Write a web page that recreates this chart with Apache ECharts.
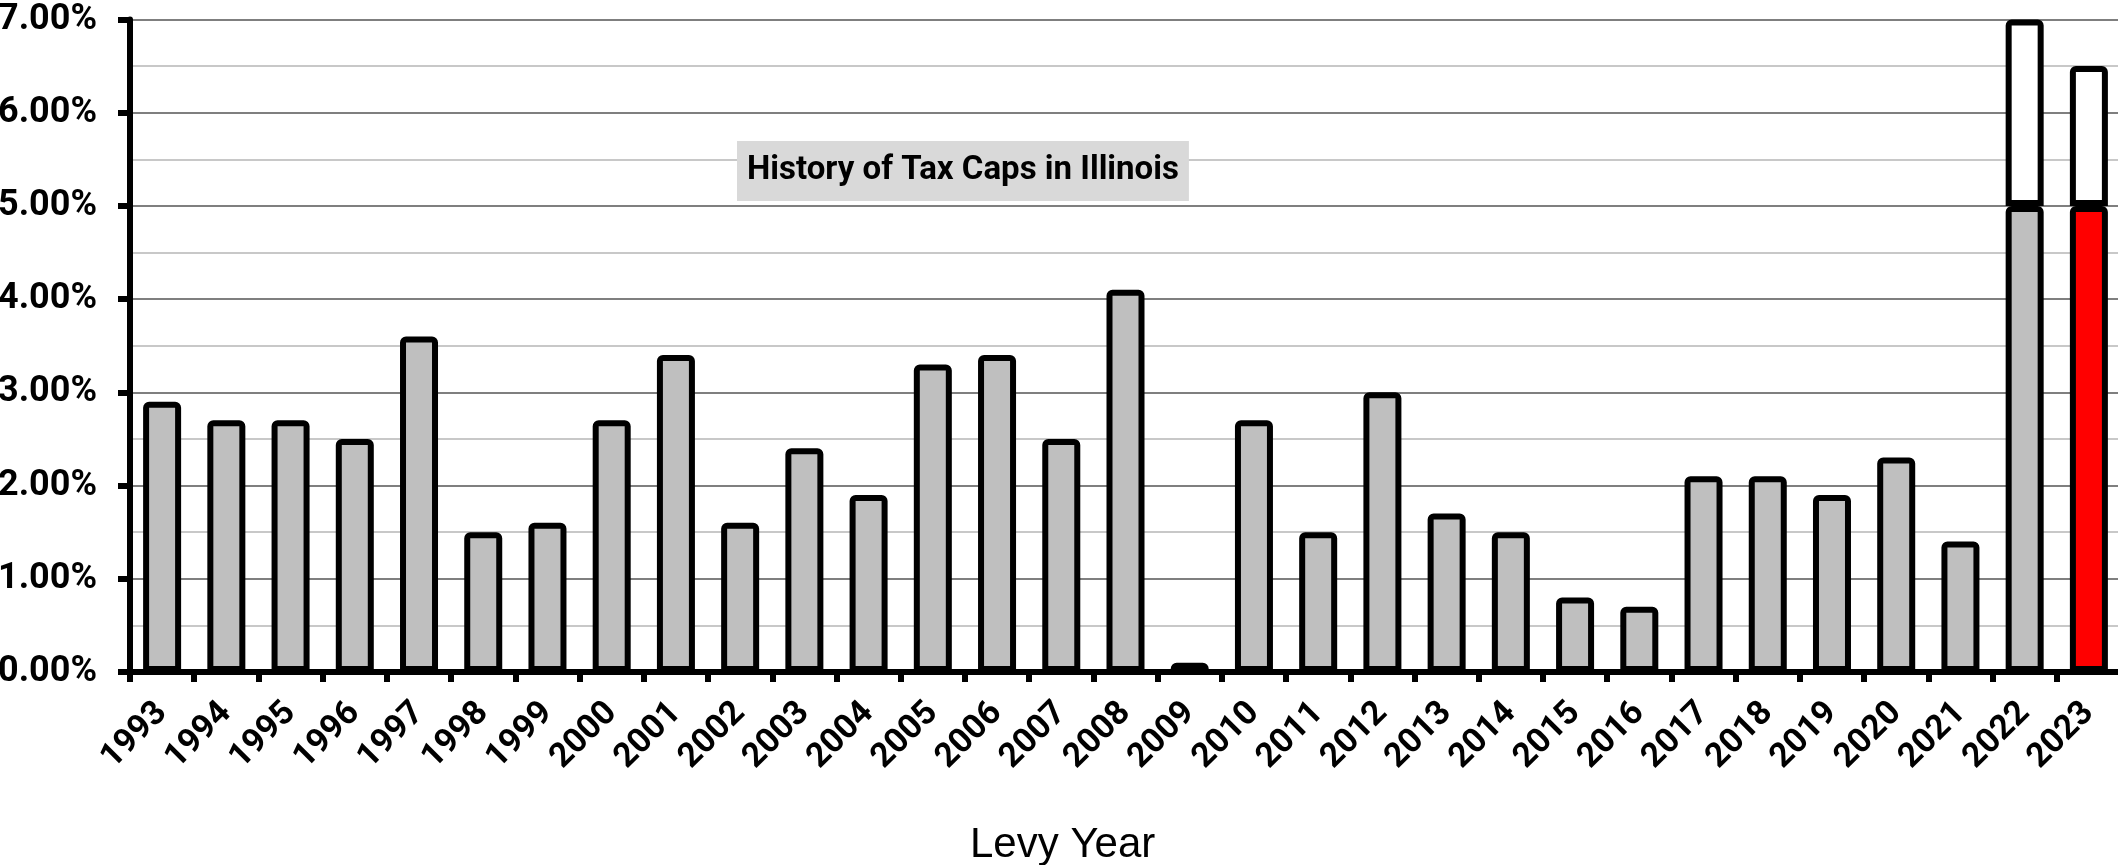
<!DOCTYPE html>
<html>
<head>
<meta charset="utf-8">
<script src="https://cdn.jsdelivr.net/npm/echarts@6/dist/echarts.min.js"></script>
<style>
html,body{margin:0;padding:0;background:#fff;}
#chart{width:2118px;height:865px;}
</style>
</head>
<body>
<div id="chart"></div>
<script>
// Data
const years = ['1993','1994','1995','1996','1997','1998','1999','2000','2001','2002','2003','2004','2005','2006','2007','2008','2009','2010','2011','2012','2013','2014','2015','2016','2017','2018','2019','2020','2021','2022','2023'];
const cappedRate = [2.9,2.7,2.7,2.5,3.6,1.5,1.6,2.7,3.4,1.6,2.4,1.9,3.3,3.4,2.5,4.1,0.1,2.7,1.5,3.0,1.7,1.5,0.8,0.7,2.1,2.1,1.9,2.3,1.4,5.0,5.0];
const excessCPI = [null,null,null,null,null,null,null,null,null,null,null,null,null,null,null,null,null,null,null,null,null,null,null,null,null,null,null,null,null,2.0,1.5];
const highlightYear = '2023';
const yTicks = [0,1,2,3,4,5,6,7];
const chartTitle = 'History of Tax Caps in Illinois';
const xAxisTitle = 'Levy Year';

const chart = echarts.init(document.getElementById('chart'), null, {renderer:'canvas'});
const boldFont = 'Roboto, sans-serif';

const option = {
  backgroundColor: '#ffffff',
  animation: false,
  title: [{
    text: chartTitle,
    left: 737, top: 141,
    backgroundColor: '#d9d9d9',
    padding: [10, 10, 10, 10],
    textStyle: {fontFamily: boldFont, fontWeight: 'bold', fontSize: 33, color: '#000', lineHeight: 40}
  }],
  graphic: [{
    type: 'text',
    left: 970, top: 824,
    style: {text: xAxisTitle, font: '42px "Liberation Sans", Arial, sans-serif', fill: '#000'}
  }],
  grid: {left: 130, top: 19.5, width: 1991, height: 652.5, containLabel: false, outerBoundsMode: 'none'},
  xAxis: {
    type: 'category',
    data: years,
    boundaryGap: true,
    axisLine: {show: true, lineStyle: {color: '#000', width: 6}},
    axisTick: {show: true, length: 10, lineStyle: {color: '#000', width: 6}},
    axisLabel: {rotate: 45, margin: 36, interval: 0, fontFamily: 'Roboto, sans-serif', fontWeight: 'bold', fontSize: 34, color: '#000'}
  },
  yAxis: {
    type: 'value',
    min: yTicks[0], max: yTicks[yTicks.length-1], interval: 1,
    axisLine: {show: true, lineStyle: {color: '#000', width: 6}},
    axisTick: {show: true, length: 12, lineStyle: {color: '#000', width: 6}},
    axisLabel: {margin: 33, fontFamily: 'Roboto, sans-serif', fontWeight: 'bold', fontSize: 36, color: '#000',
      formatter: v => v.toFixed(2) + '%'},
    splitLine: {show: true, lineStyle: {color: '#7f7f7f', width: 2}},
    minorTick: {show: false, splitNumber: 2},
    minorSplitLine: {show: true, lineStyle: {color: '#c8c8c8', width: 2}}
  },
  series: [{
    type: 'bar',
    stack: 'cap',
    barWidth: 38,
    data: cappedRate.map((v, i) => years[i] === highlightYear
      ? {value: v, itemStyle: {color: '#ff0000'}}
      : v),
    itemStyle: {color: '#bfbfbf', borderColor: '#000', borderWidth: 6, borderRadius: [3,3,0,0]},
    z: 3
  }, {
    type: 'bar',
    stack: 'cap',
    barWidth: 38,
    data: excessCPI.map(v => v === null ? '-' : v),
    itemStyle: {color: '#ffffff', borderColor: '#000', borderWidth: 6, borderRadius: [3,3,0,0]},
    z: 3
  }]
};
chart.setOption(option);
</script>
</body>
</html>
